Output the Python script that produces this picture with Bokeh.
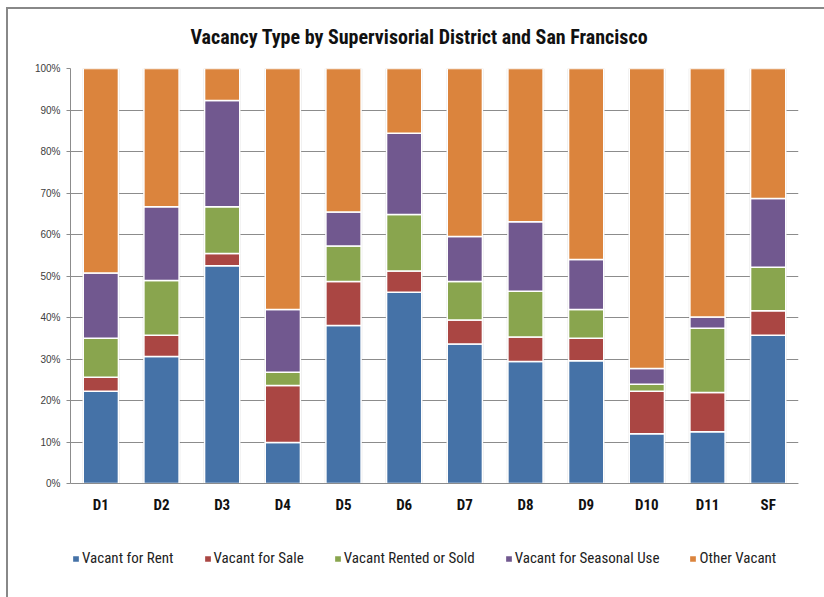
from bokeh.plotting import figure
from bokeh.models import (FactorRange, NumeralTickFormatter, FixedTicker, Legend, LegendItem,
                          ColumnDataSource, Range1d, InlineStyleSheet)
from bokeh.embed import file_html
from bokeh.resources import INLINE

categories = ["D1", "D2", "D3", "D4", "D5", "D6", "D7", "D8", "D9", "D10", "D11", "SF"]
vacant_for_rent = [22.2, 30.6, 52.5, 9.9, 38.1, 46.1, 33.6, 29.4, 29.6, 12.0, 12.5, 35.7]
vacant_for_sale = [3.4, 5.1, 2.9, 13.7, 10.6, 5.1, 5.8, 5.9, 5.4, 10.2, 9.4, 5.9]
vacant_rented_or_sold = [9.4, 13.2, 11.3, 3.2, 8.5, 13.6, 9.3, 11.0, 6.9, 1.7, 15.5, 10.5]
vacant_seasonal = [15.7, 17.8, 25.6, 15.1, 8.2, 19.6, 10.8, 16.8, 12.1, 3.8, 2.7, 16.6]
other_vacant = [49.3, 33.3, 7.7, 58.1, 34.6, 15.6, 40.5, 36.9, 46.0, 72.3, 59.9, 31.3]
series_names = ["Vacant for Rent", "Vacant for Sale", "Vacant Rented or Sold",
                "Vacant for Seasonal Use", "Other Vacant"]
colors = ["#4572A7", "#AA4643", "#89A54E", "#71588F", "#DB843D"]
y_ticks = [0.0, 0.1, 0.2, 0.3, 0.4, 0.5, 0.6, 0.7, 0.8, 0.9, 1.0]

series = [vacant_for_rent, vacant_for_sale, vacant_rented_or_sold, vacant_seasonal, other_vacant]
keys = ["rent", "sale", "rented", "seasonal", "other"]
data = {"cat": categories}
for k, s in zip(keys, series):
    data[k] = [v / 100.0 for v in s]
totals = [sum(vals) / 100.0 for vals in zip(*series)]
data["total"] = totals
source = ColumnDataSource(data)

NARROW = "Liberation Sans Narrow, Arial Narrow, Roboto Condensed, Liberation Sans, sans-serif"

# frame: top at y=68 (100%), 0% at y=483; frame extends down to host labels + legend
px_per_unit = 415.0
frame_bottom_extra = 92.0
p = figure(x_range=FactorRange(*categories, range_padding=0),
           y_range=Range1d(-frame_bottom_extra / px_per_unit, 1),
           width=808, height=581, output_backend="svg", toolbar_location=None,
           min_border_left=70, min_border_right=10, min_border_top=68, min_border_bottom=6)

# outer chart border (left and top edges visible in the reference)
p.stylesheets = [InlineStyleSheet(css="""
:host { position: relative; }
:host::after { content: ''; position: absolute; left: 6px; top: 7px; right: -40px; bottom: -40px;
  border-left: 2px solid #888888; border-top: 2px solid #888888; pointer-events: none; }
""")]

p.title.text = "Vacancy Type by Supervisorial District and San Francisco"
p.title.text_font = NARROW
p.title.text_font_size = "20px"
p.title.text_font_style = "bold"
p.title.text_color = "#111111"
p.title.align = "left"
p.title.offset = 120
p.title.standoff = 40

# subtle shadow behind bars
p.vbar(x="cat", top="total", bottom=0, width=0.62, source=source,
       fill_color="#000000", fill_alpha=0.10, line_color=None)

renderers = p.vbar_stack(keys, x="cat", width=0.58, source=source,
                         fill_color=colors, line_color="white", line_width=1.5)

p.outline_line_color = None
p.background_fill_color = "white"
p.border_fill_color = "white"

p.xgrid.grid_line_color = None
p.ygrid.grid_line_color = "#8c8c8c"
p.ygrid.grid_line_width = 1
p.ygrid.ticker = FixedTicker(ticks=y_ticks)
p.ygrid.bounds = (0, 1)

p.yaxis.ticker = FixedTicker(ticks=y_ticks)
p.yaxis.bounds = (0, 1)
p.yaxis.formatter = NumeralTickFormatter(format="0%")
p.yaxis.axis_line_color = "#8c8c8c"
p.yaxis.major_tick_line_color = "#8c8c8c"
p.yaxis.major_tick_out = 4
p.yaxis.major_tick_in = 0
p.yaxis.minor_tick_line_color = None
p.yaxis.major_label_text_font = "Liberation Sans, Arial, sans-serif"
p.yaxis.major_label_text_font_size = "10px"
p.yaxis.major_label_text_color = "#404040"
p.yaxis.major_label_standoff = 6

p.xaxis.fixed_location = 0
p.xaxis.axis_line_color = "#8c8c8c"
p.xaxis.major_tick_line_color = None
p.xaxis.minor_tick_line_color = None
p.xaxis.major_label_text_font = NARROW
p.xaxis.major_label_text_font_size = "15px"
p.xaxis.major_label_text_font_style = "bold"
p.xaxis.major_label_text_color = "#111111"
p.xaxis.major_label_standoff = 6

legend = Legend(items=[LegendItem(label=n, renderers=[r]) for n, r in zip(series_names, renderers)],
                orientation="horizontal", location=(1, 8))
legend.label_text_font = NARROW
legend.label_text_font_size = "15px"
legend.label_text_color = "#222222"
legend.glyph_width = 9
legend.glyph_height = 9
legend.label_standoff = 2
legend.spacing = 29
legend.border_line_color = None
legend.background_fill_alpha = 0
legend.margin = 0
legend.padding = 0
legend.label_height = 14
p.add_layout(legend, "center")

open("out.html", "w").write(file_html(p, INLINE))
